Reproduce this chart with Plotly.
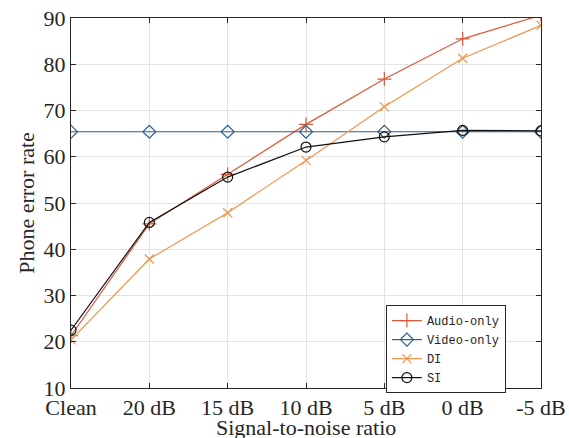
import plotly.graph_objects as go

categories = ["Clean", "20 dB", "15 dB", "10 dB", "5 dB", "0 dB", "-5 dB"]
audio_only = [21.3, 45.5, 56.2, 67.0, 76.8, 85.5, 90.6]
video_only = [65.4, 65.4, 65.4, 65.4, 65.4, 65.4, 65.4]
di = [20.4, 37.9, 47.9, 59.2, 70.8, 81.3, 88.4]
si = [22.5, 45.8, 55.6, 62.1, 64.3, 65.7, 65.6]
y_ticks = [10, 20, 30, 40, 50, 60, 70, 80, 90]

xs = list(range(len(categories)))

series = [
    ("Audio-only", audio_only, "#d9583b", "cross-thin", 10),
    ("Video-only", video_only, "#2d5f8a", "diamond-open", 10),
    ("DI", di, "#f0954a", "x-thin", 9),
    ("SI", si, "#111111", "circle-open", 10),
]

fig = go.Figure()
for name, vals, color, sym, size in series:
    fig.add_trace(go.Scatter(
        x=xs, y=vals, name=name, mode="lines+markers",
        line=dict(color=color, width=1.2),
        marker=dict(symbol=sym, size=size, color=color,
                    line=dict(color=color, width=1.2)),
    ))

serif = "Liberation Serif, Times New Roman, serif"
axis_common = dict(
    showline=True, linecolor="#262626", linewidth=1, mirror="ticks",
    ticks="inside", ticklen=5, tickcolor="#262626",
    showgrid=True, gridcolor="#e3e3e3", gridwidth=1,
    zeroline=False, automargin=False, ticklabeloverflow="allow",
    tickfont=dict(family=serif, size=22, color="#262626"),
)

fig.update_layout(
    width=569, height=438,
    margin=dict(l=71, r=28, t=18, b=50),
    paper_bgcolor="white", plot_bgcolor="white",
    xaxis=dict(range=[0, 6], tickvals=xs, ticktext=categories,
               **axis_common),
    yaxis=dict(range=[10, 90], tickvals=y_ticks,
               title=dict(text="Phone error rate",
                          font=dict(family=serif, size=22, color="#262626"),
                          standoff=2),
               **axis_common),
    legend=dict(x=0.670, y=0.224, xanchor="left", yanchor="top",
                bgcolor="white", bordercolor="#262626", borderwidth=1,
                font=dict(family="Liberation Mono, Courier New, monospace",
                          size=12, color="#262626"),
                entrywidth=110, entrywidthmode="pixels",
                tracegroupgap=0),
    showlegend=True,
)

# x-axis title placed just below the tick labels (bottom edge slightly cut, as in the reference)
fig.add_annotation(
    text="Signal-to-noise ratio", xref="paper", yref="paper",
    x=0.5, y=-0.068, xanchor="center", yanchor="top", showarrow=False,
    font=dict(family=serif, size=22, color="#262626"),
)

fig.write_html(
    "out.html",
    config={"displayModeBar": False},
    post_script="document.body.style.margin='0';document.body.style.overflow='hidden';",
)
